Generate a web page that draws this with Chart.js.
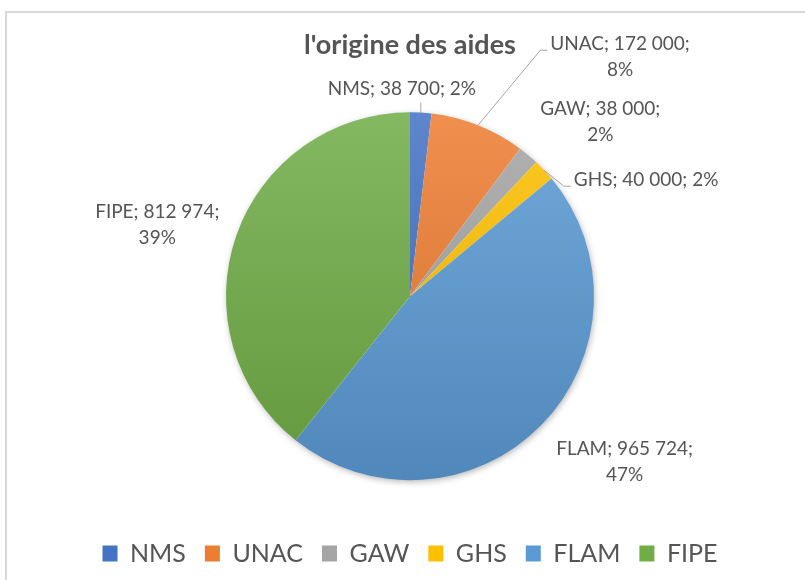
<!DOCTYPE html>
<html>
<head>
<meta charset="utf-8">
<script src="https://cdn.jsdelivr.net/npm/chart.js@4.4.0/dist/chart.umd.min.js"></script>
<style>
    html, body { margin: 0; padding: 0; background: #fff; overflow: hidden; width: 805px; height: 580px; }
    #frame { position: absolute; left: 5px; top: 11px; width: 820px; height: 600px; border-top: 2px solid #d9d9d9; border-left: 2px solid #d9d9d9; }
    #wrap { position: absolute; left: 0; top: 0; width: 805px; height: 576px; }
</style>
</head>
<body>
<div id="frame"></div>
<div id="wrap"><canvas id="aidesPie" width="805" height="576"></canvas></div>
<script>
var categories = ['NMS', 'UNAC', 'GAW', 'GHS', 'FLAM', 'FIPE'];
var amounts = [38700, 172000, 38000, 40000, 965724, 812974];
var sliceColors = ['#4472C4', '#ED7D31', '#A5A5A5', '#FFC000', '#5B9BD5', '#70AD47'];
var chartTitle = "l'origine des aides";

// where each data label sits, relative to the middle of its slice's rim
var labelPlacement = [
    { dx: -19, dy: -24, wrap: false, leader: 'below' },
    { dx: 142, dy: -68, wrap: true, leader: 'side' },
    { dx: 72, dy: -33, wrap: true, leader: null },
    { dx: 102, dy: 10, wrap: false, leader: 'side' },
    { dx: 83, dy: 37, wrap: true, leader: null },
    { dx: -79, dy: -11, wrap: true, leader: null }
];

var textColor = '#555555';
var pieRadius = 184;

function shade(hex, p) {
    var n = parseInt(hex.slice(1), 16);
    var c = [(n >> 16) & 255, (n >> 8) & 255, n & 255];
    c = c.map(function (v) {
        return Math.round(p > 0 ? v + (255 - v) * p : v * (1 + p));
    });
    return 'rgb(' + c.join(',') + ')';
}

function formatAmount(v) {
    return String(v).replace(/\B(?=(\d{3})+(?!\d))/g, ' ');
}

function sliceFill(c) {
    var chart = c.chart, area = chart.chartArea, base = sliceColors[c.dataIndex];
    if (!area) return base;
    var cy = (area.top + area.bottom) / 2;
    var g = chart.ctx.createLinearGradient(0, cy - pieRadius, 0, cy + pieRadius);
    g.addColorStop(0, shade(base, 0.14));
    g.addColorStop(1, shade(base, -0.12));
    return g;
}

var pieShadow = {
    id: 'pieShadow',
    beforeDatasetsDraw: function (chart) {
        var arc = chart.getDatasetMeta(0).data[0];
        if (!arc) return;
        var ctx = chart.ctx;
        ctx.save();
        ctx.shadowColor = 'rgba(0,0,0,0.35)';
        ctx.shadowBlur = 7;
        ctx.shadowOffsetX = 1;
        ctx.shadowOffsetY = 2;
        ctx.fillStyle = '#ffffff';
        ctx.beginPath();
        ctx.arc(arc.x, arc.y, arc.outerRadius - 1, 0, Math.PI * 2);
        ctx.fill();
        ctx.restore();
    }
};

var sliceLabels = {
    id: 'sliceLabels',
    afterDatasetsDraw: function (chart) {
        var ctx = chart.ctx;
        var meta = chart.getDatasetMeta(0);
        var total = amounts.reduce(function (a, b) { return a + b; }, 0);
        var lineH = 26;
        ctx.save();
        ctx.font = '19px Lato';
        ctx.fillStyle = textColor;
        ctx.strokeStyle = '#a6a6a6';
        ctx.lineWidth = 1;
        ctx.textAlign = 'center';
        ctx.textBaseline = 'middle';
        meta.data.forEach(function (arc, i) {
            var mid = (arc.startAngle + arc.endAngle) / 2;
            var ex = arc.x + Math.cos(mid) * arc.outerRadius;
            var ey = arc.y + Math.sin(mid) * arc.outerRadius;
            var place = labelPlacement[i];
            var lx = ex + place.dx, ly = ey + place.dy;
            var head = categories[i] + '; ' + formatAmount(amounts[i]) + ';';
            var pct = Math.round(amounts[i] / total * 100) + '%';
            var lines = place.wrap ? [head, pct] : [head + ' ' + pct];
            var firstY = ly - (lines.length - 1) / 2 * lineH;
            lines.forEach(function (t, k) {
                ctx.fillText(t, lx, firstY + k * lineH);
            });
            if (place.leader === 'below') {
                ctx.beginPath();
                ctx.moveTo(ex, ey);
                ctx.lineTo(ex, ly + 14);
                ctx.stroke();
            } else if (place.leader === 'side') {
                var left = lx - ctx.measureText(lines[0]).width / 2;
                ctx.beginPath();
                ctx.moveTo(ex, ey);
                ctx.lineTo(left - 10, firstY + 6);
                ctx.lineTo(left - 3, firstY + 6);
                ctx.stroke();
            }
        });
        ctx.restore();
    }
};

var ctxPie = document.getElementById('aidesPie').getContext('2d');
var aidesPie = new Chart(ctxPie, {
    type: 'pie',
    data: {
        labels: categories,
        datasets: [{
            data: amounts,
            backgroundColor: sliceFill,
            borderWidth: 0,
            radius: pieRadius
        }]
    },
    options: {
        responsive: false,
        animation: false,
        events: [],
        layout: { padding: { left: 15, right: 0, top: 0, bottom: 0 } },
        plugins: {
            title: {
                display: true,
                text: chartTitle,
                color: textColor,
                font: { family: 'Lato', size: 27, weight: 'bold' },
                padding: { top: 29, bottom: 9 }
            },
            legend: {
                position: 'bottom',
                labels: {
                    color: textColor,
                    font: { family: 'Lato', size: 25 },
                    boxWidth: 15,
                    boxHeight: 16,
                    padding: 19,
                    generateLabels: function (chart) {
                        return categories.map(function (name, i) {
                            return {
                                text: name,
                                fillStyle: sliceColors[i],
                                strokeStyle: sliceColors[i],
                                lineWidth: 0,
                                fontColor: textColor,
                                hidden: false,
                                index: i
                            };
                        });
                    }
                }
            },
            tooltip: { enabled: false }
        }
    },
    plugins: [pieShadow, sliceLabels]
});
</script>
</body>
</html>
